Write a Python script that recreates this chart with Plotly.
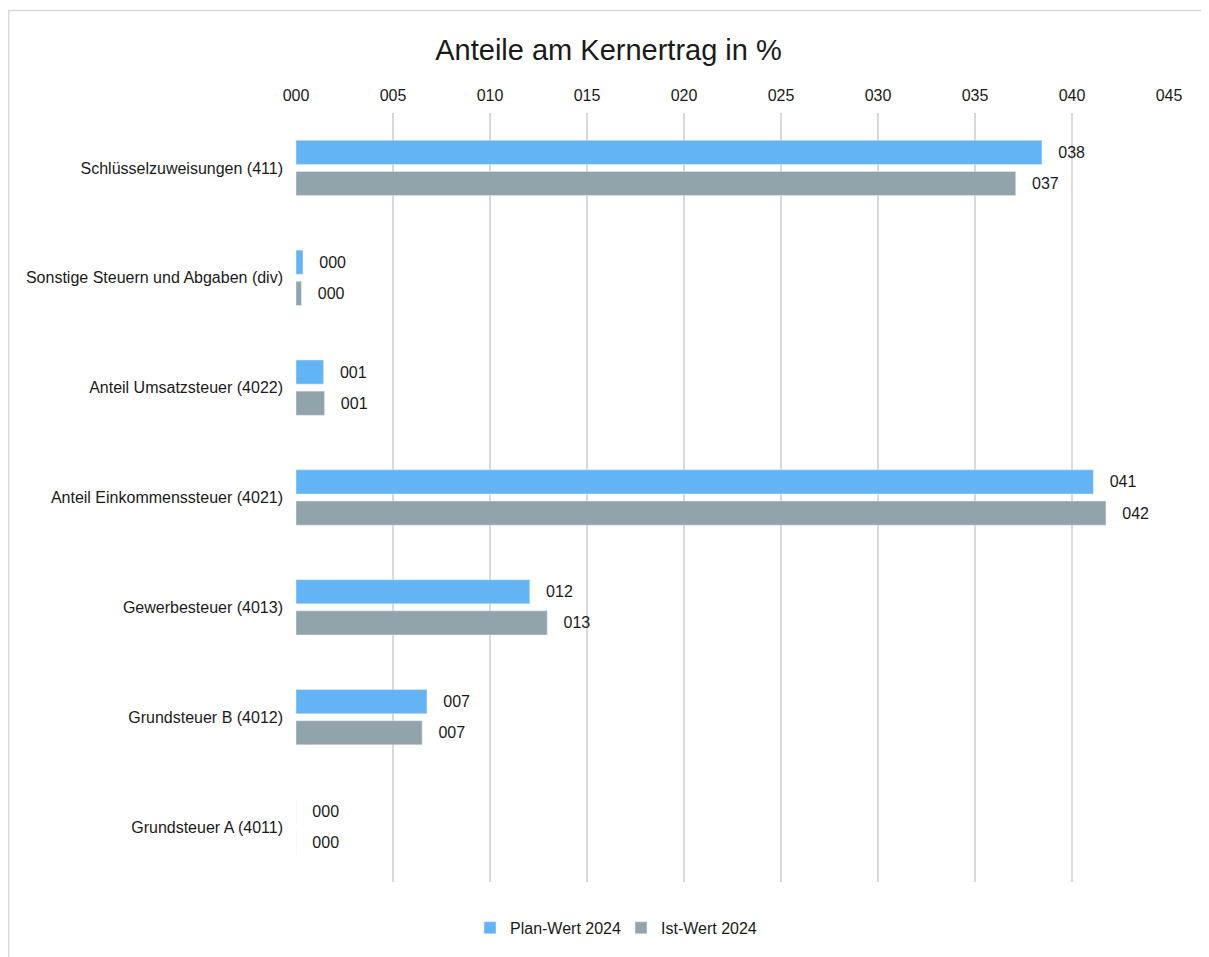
import plotly.graph_objects as go

categories = [
    "Schlüsselzuweisungen (411)",
    "Sonstige Steuern und Abgaben (div)",
    "Anteil Umsatzsteuer (4022)",
    "Anteil Einkommenssteuer (4021)",
    "Gewerbesteuer (4013)",
    "Grundsteuer B (4012)",
    "Grundsteuer A (4011)",
]
plan_2024 = [38.45, 0.36, 1.42, 41.1, 12.05, 6.75, 0.0]
ist_2024 = [37.1, 0.28, 1.47, 41.75, 12.95, 6.5, 0.0]
tick_vals = [0, 5, 10, 15, 20, 25, 30, 35, 40, 45]
tick_text = ["000", "005", "010", "015", "020", "025", "030", "035", "040", "045"]

FONT = "Liberation Sans, Arial, sans-serif"
W, H = 1201, 949
L, R, T, B = 288, 40, 105, 72
PW, PH = W - L - R, H - T - B

fig = go.Figure()
fig.add_trace(go.Bar(
    name="Plan-Wert 2024", y=categories, x=plan_2024, orientation="h",
    marker=dict(color="#63B4F5"),
    texttemplate="   %{x:03.0f}", textposition="outside", cliponaxis=False,
    textfont=dict(size=16, color="#1a1a1a", family=FONT),
))
fig.add_trace(go.Bar(
    name="Ist-Wert 2024", y=categories, x=ist_2024, orientation="h",
    marker=dict(color="#91A4AC"),
    texttemplate="   %{x:03.0f}", textposition="outside", cliponaxis=False,
    textfont=dict(size=16, color="#1a1a1a", family=FONT),
))

fig.update_layout(
    width=W, height=H,
    paper_bgcolor="white", plot_bgcolor="white",
    font=dict(family=FONT, size=16, color="#1a1a1a"),
    title=dict(text="Anteile am Kernertrag in %", x=0.5, xanchor="center",
               y=1 - 42 / H, yref="container", yanchor="middle",
               font=dict(size=29, color="#1a1a1a", family=FONT)),
    barmode="group", bargap=0.433, bargroupgap=0.224,
    margin=dict(l=L, r=R, t=T, b=B),
    xaxis=dict(side="top", range=[0, 45], tickvals=tick_vals, ticktext=tick_text,
               showgrid=True, gridcolor="#d9d9d9", gridwidth=1.5,
               zeroline=False, showline=False, ticks="", ticklabelstandoff=8,
               tickfont=dict(size=16, family=FONT, color="#1a1a1a")),
    yaxis=dict(autorange="reversed", showgrid=False, zeroline=False, showline=False,
               ticks="", ticklabelstandoff=12,
               tickfont=dict(size=16, family=FONT, color="#1a1a1a")),
    legend=dict(orientation="h", x=(613 - L) / PW, xanchor="center",
                y=-(923 - (H - B)) / PH, yanchor="middle",
                font=dict(size=16, family=FONT, color="#1a1a1a"),
                itemwidth=30, entrywidth=106, traceorder="normal"),
    shapes=[dict(type="rect", xref="paper", yref="paper",
                 x0=(0.75 - L) / PW, x1=(W + 10 - L) / PW,
                 y0=-(H + 10 - (H - B)) / PH, y1=((H - B) - 2) / PH,
                 line=dict(color="#d9d9d9", width=1.5), fillcolor="rgba(0,0,0,0)",
                 layer="below")],
)

fig.write_html("out.html")
